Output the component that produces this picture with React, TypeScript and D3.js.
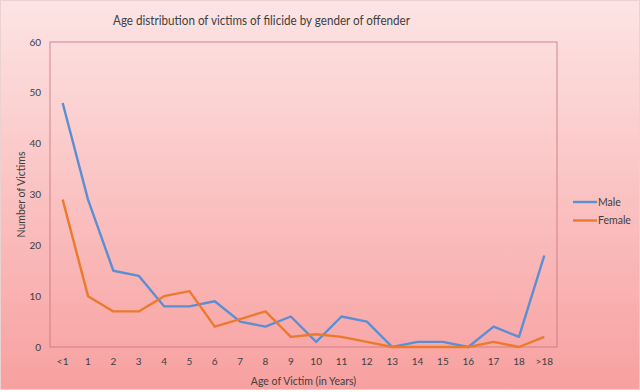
import { useMemo } from 'react';
import * as d3 from 'd3';

const AGES = ['<1', '1', '2', '3', '4', '5', '6', '7', '8', '9', '10', '11', '12', '13', '14', '15', '16', '17', '18', '>18'];
const MALE = [48, 29, 15, 14, 8, 8, 9, 5, 4, 6, 1, 6, 5, 0, 1, 1, 0, 4, 2, 18];
const FEMALE = [29, 10, 7, 7, 10, 11, 4, 5.5, 7, 2, 2.5, 2, 1, 0, 0, 0, 0, 1, 0, 2];
const Y_TICKS = [0, 10, 20, 30, 40, 50, 60];

const SERIES = [
  { name: 'Male', values: MALE, color: '#5b8ed3' },
  { name: 'Female', values: FEMALE, color: '#ec7a2c' },
];

const W = 640;
const H = 392;
const margin = { top: 42, right: 83, bottom: 45, left: 50 };
const FONT = "Lato, 'Open Sans', sans-serif";

export default function App() {
  const x = useMemo(() => d3.scalePoint<string>().domain(AGES).range([margin.left, W - margin.right]).padding(0.5), []);
  const y = useMemo(() => d3.scaleLinear().domain([0, 60]).range([H - margin.bottom, margin.top]), []);
  const line = d3.line<number>().x((_, i) => x(AGES[i]) as number).y(d => y(d));

  const x0 = margin.left;
  const x1 = W - margin.right;
  const y0 = H - margin.bottom;

  return (
    <svg width={W} height={H} style={{ position: 'absolute', left: 0, top: 0, fontFamily: FONT }}>
      <defs>
        <linearGradient id="bg" x1="0" y1="0" x2="0" y2="1">
          <stop offset="0" stopColor="#fde4e4" />
          <stop offset="1" stopColor="#f8a0a0" />
        </linearGradient>
      </defs>
      <rect x={0.5} y={0.5} width={W - 1} height={H - 3} fill="url(#bg)" stroke="#ead2d2" />

      {/* narrow title, like the original's Calibri */}
      <text x={113} y={20} dy="0.35em" fontSize={14} fill="#404040" textLength={297} lengthAdjust="spacingAndGlyphs">
        Age distribution of victims of filicide by gender of offender
      </text>

      <rect x={x0} y={margin.top} width={x1 - x0} height={y0 - margin.top} fill="none" stroke="#c8707a" strokeWidth={0.8} />

      {Y_TICKS.map(t => (
        <text key={t} x={x0 - 9} y={y(t)} dy="0.35em" textAnchor="end" fontSize={10} fill="#404040">{t}</text>
      ))}
      {AGES.map(a => (
        <text key={a} x={x(a)} y={y0 + 14} dy="0.35em" textAnchor="middle" fontSize={10} fill="#404040">{a}</text>
      ))}

      <text transform={`translate(25,${(margin.top + y0) / 2}) rotate(-90)`} textAnchor="middle" fontSize={10.5} fill="#404040">
        Number of Victims
      </text>
      <text x={(x0 + x1) / 2} y={y0 + 34} dy="0.35em" textAnchor="middle" fontSize={10.5} fill="#404040">
        Age of Victim (in Years)
      </text>

      {SERIES.map(s => (
        <path key={s.name} d={line(s.values) ?? ''} fill="none" stroke={s.color} strokeWidth={2.4} strokeLinejoin="round" />
      ))}

      {SERIES.map((s, i) => (
        <g key={s.name} transform={`translate(573,${202 + i * 18.5})`}>
          <line x1={0} x2={24} y1={0} y2={0} stroke={s.color} strokeWidth={2.4} />
          <text x={25} y={0} dy="0.35em" fontSize={10.5} fill="#404040">{s.name}</text>
        </g>
      ))}
    </svg>
  );
}
